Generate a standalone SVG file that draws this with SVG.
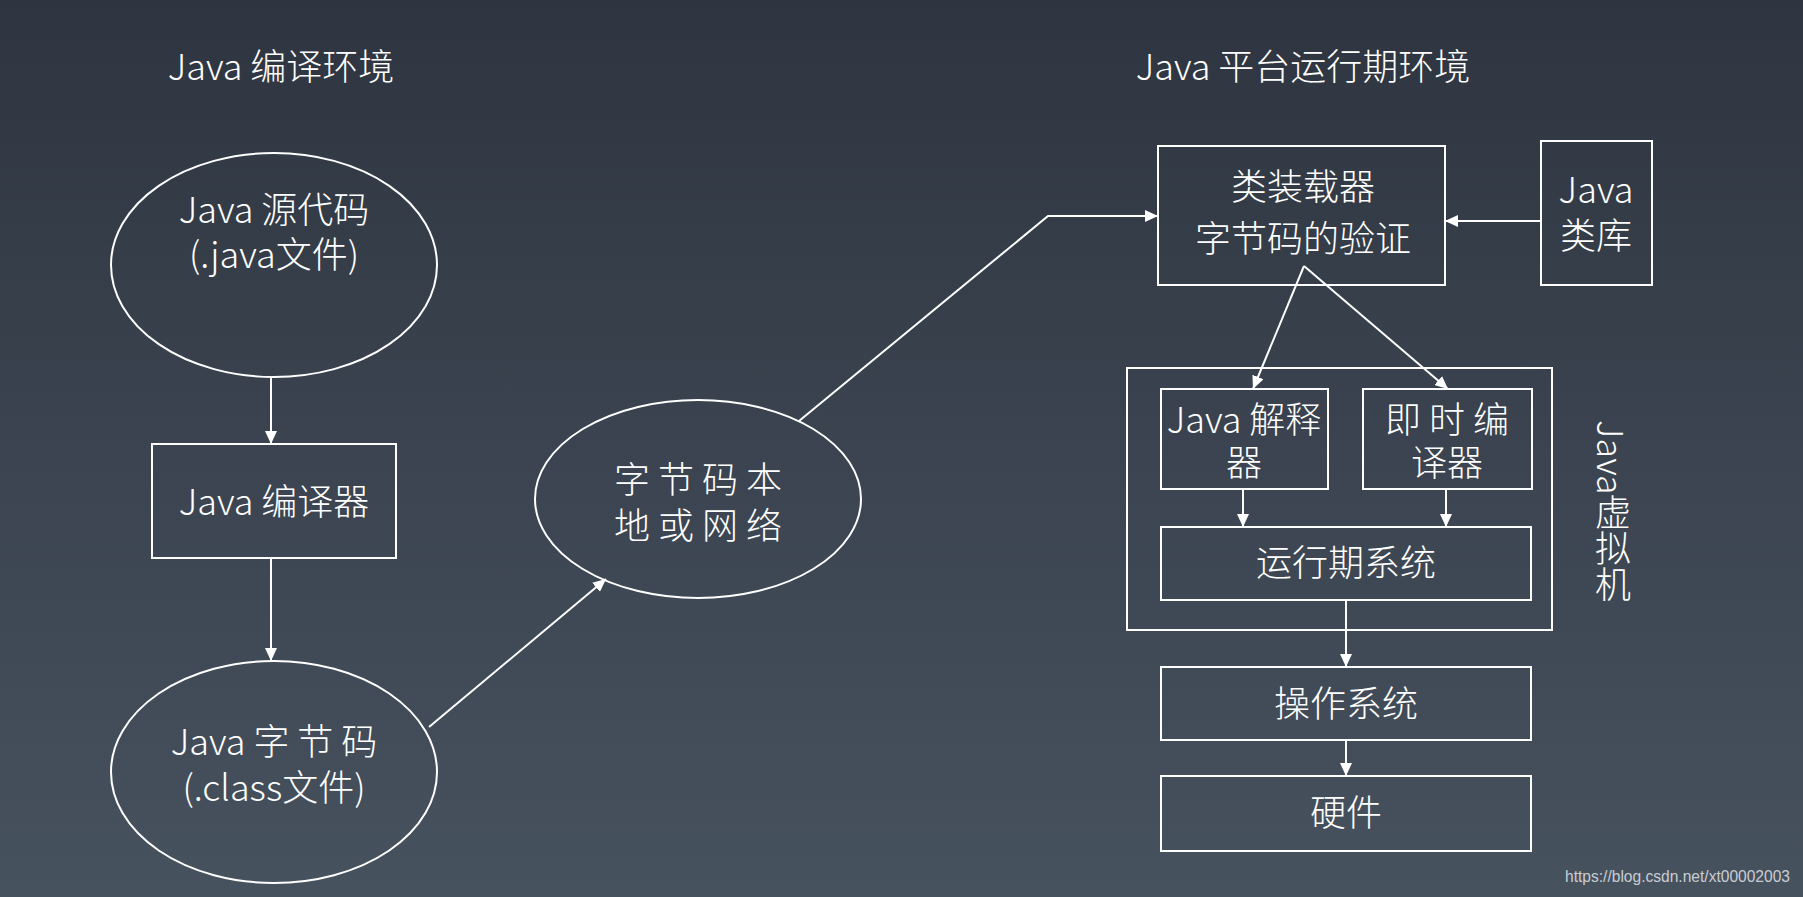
<svg xmlns="http://www.w3.org/2000/svg" width="1803" height="897" viewBox="0 0 1803 897">
<defs>
<linearGradient id="bg" x1="0" y1="0" x2="0" y2="1">
<stop offset="0" stop-color="#2e3540"/>
<stop offset="1" stop-color="#47525f"/>
</linearGradient>
<marker id="ah" markerUnits="userSpaceOnUse" markerWidth="13" markerHeight="12" refX="13" refY="6" orient="auto">
<path d="M0,0 L13,6 L0,12 z" fill="#ffffff"/>
</marker>
<style>
.t{font-family:"Noto Sans CJK SC","Noto Sans",sans-serif;font-size:36px;font-weight:300;fill:#ffffff;text-anchor:middle}
.s{fill:none;stroke:#ffffff;stroke-width:2}
.c{fill:none;stroke:#ffffff;stroke-width:2}
.w{font-family:"Liberation Sans",Arial,sans-serif;font-size:16px;fill:#c9cdd2}
</style>
</defs>
<rect x="0" y="0" width="1803" height="897" fill="url(#bg)"/>
<text class="t" x="281" y="80">Java 编译环境</text>
<text class="t" x="1303" y="80">Java 平台运行期环境</text>
<g id="src">
<ellipse class="s" cx="274" cy="265" rx="163" ry="112"/>
<text class="t" x="274" y="223">Java 源代码</text>
<text class="t" x="274" y="268">(.java文件)</text>
</g>
<g id="javac">
<rect class="s" x="152" y="444" width="244" height="114"/>
<text class="t" x="274" y="515">Java 编译器</text>
</g>
<g id="bytecode">
<ellipse class="s" cx="274" cy="772" rx="163" ry="111"/>
<text class="t" x="274" y="755">Java 字 节 码</text>
<text class="t" x="274" y="801">(.class文件)</text>
</g>
<g id="net">
<ellipse class="s" cx="698" cy="499" rx="163" ry="99"/>
<text class="t" x="698" y="493">字 节 码 本</text>
<text class="t" x="698" y="539">地 或 网 络</text>
</g>
<g id="loader">
<rect class="s" x="1158" y="146" width="287" height="139"/>
<text class="t" x="1303" y="200">类装载器</text>
<text class="t" x="1303" y="252">字节码的验证</text>
</g>
<g id="lib">
<rect class="s" x="1541" y="141" width="111" height="144"/>
<text class="t" x="1596" y="203">Java</text>
<text class="t" x="1596" y="249">类库</text>
</g>
<g id="jvm">
<rect class="s" x="1127" y="368" width="425" height="262"/>
<text class="t" x="1613" y="420" style="writing-mode:vertical-rl;text-anchor:start">Java虚拟机</text>
</g>
<g id="interp">
<rect class="s" x="1161" y="389" width="167" height="100"/>
<text class="t" x="1244" y="433">Java 解释</text>
<text class="t" x="1244" y="476">器</text>
</g>
<g id="jit">
<rect class="s" x="1363" y="389" width="169" height="100"/>
<text class="t" x="1447" y="433">即 时 编</text>
<text class="t" x="1447" y="476">译器</text>
</g>
<g id="runtime">
<rect class="s" x="1161" y="527" width="370" height="73"/>
<text class="t" x="1346" y="576">运行期系统</text>
</g>
<g id="os">
<rect class="s" x="1161" y="667" width="370" height="73"/>
<text class="t" x="1346" y="717">操作系统</text>
</g>
<g id="hw">
<rect class="s" x="1161" y="776" width="370" height="75"/>
<text class="t" x="1346" y="826">硬件</text>
</g>
<g id="connectors">
<path class="c" d="M271,377 L271,444" marker-end="url(#ah)"/>
<path class="c" d="M271,558 L271,661" marker-end="url(#ah)"/>
<path class="c" d="M429,727 L606,579" marker-end="url(#ah)"/>
<path class="c" d="M799,421 L1048,216 L1158,216" marker-end="url(#ah)"/>
<path class="c" d="M1541,221 L1445,221" marker-end="url(#ah)"/>
<path class="c" d="M1304,266 L1253,389" marker-end="url(#ah)"/>
<path class="c" d="M1304,266 L1448,389" marker-end="url(#ah)"/>
<path class="c" d="M1243,489 L1243,527" marker-end="url(#ah)"/>
<path class="c" d="M1446,489 L1446,527" marker-end="url(#ah)"/>
<path class="c" d="M1346,600 L1346,667" marker-end="url(#ah)"/>
<path class="c" d="M1346,740 L1346,776" marker-end="url(#ah)"/>
</g>
<text class="w" x="1565" y="882" textLength="225" lengthAdjust="spacingAndGlyphs">https://blog.csdn.net/xt00002003</text>
</svg>
